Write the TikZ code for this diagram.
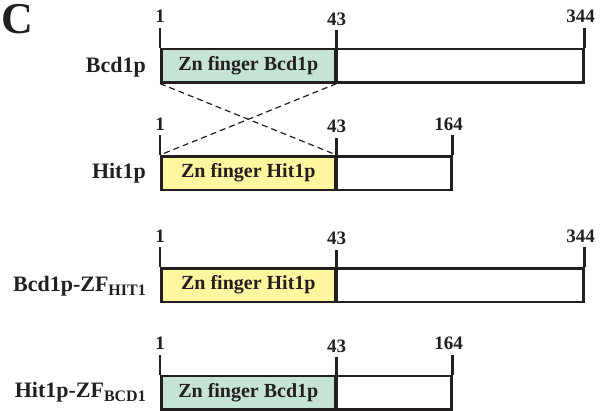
\documentclass[tikz,border=0pt]{standalone}
\usepackage{fontspec}
\setmainfont{Liberation Serif}
\definecolor{zngreen}{RGB}{198,228,211}
\definecolor{znyellow}{RGB}{255,246,160}
\definecolor{ink}{RGB}{35,31,32}
\newcommand{\subtxt}[1]{\raisebox{-4pt}{\fontsize{16}{16}\selectfont\bfseries #1}}
\begin{document}
\begin{tikzpicture}[x=1pt,y=-1pt,
  seg/.style={draw=ink, line width=2.6pt, inner sep=0pt, anchor=north west,
    minimum height=33.5pt, font=\fontsize{20}{20}\selectfont\bfseries, text=ink},
  tick/.style={draw=ink, line width=2.6pt},
  num/.style={anchor=base, inner sep=0pt, font=\fontsize{19}{19}\selectfont\bfseries, text=ink},
  lab/.style={anchor=base east, inner sep=0pt, font=\fontsize{22}{22}\selectfont\bfseries, text=ink},
  swap/.style={draw=ink, line width=1.2pt, dash pattern=on 6pt off 4pt}]
\useasboundingbox (0,0) rectangle (604,410);
\node[anchor=base west, inner sep=0pt, font=\fontsize{44}{44}\selectfont\bfseries, text=ink] (C) at (1.5,33) {C};
% Row 1: Bcd1p
\node[seg, fill=zngreen, minimum width=174pt] (a1) at (160,47.5) {Zn finger Bcd1p};
\node[seg, minimum width=248pt] (a2) at (334,47.5) {};
\draw[tick] (a1.north west) -- ++(0,-20) coordinate (a1t);
\draw[tick] (a1.south east) -- ++(0,-53.5) coordinate (a2t);
\draw[tick] (a2.north east) -- ++(0,-20) coordinate (a3t);
\node[num] (n11) at ([yshift=5pt]a1t) {1};
\node[num] (n12) at ([yshift=5pt]a2t) {43};
\node[num] (n13) at ([yshift=5pt,xshift=-4pt]a3t) {344};
\node[lab] (l1) at (146,72) {Bcd1p};
% Row 2: Hit1p
\node[seg, fill=znyellow, minimum width=174pt] (b1) at (160,155) {Zn finger Hit1p};
\node[seg, minimum width=116pt] (b2) at (334,155) {};
\draw[tick] (b1.north west) -- ++(0,-20) coordinate (b1t);
\draw[tick] (b1.south east) -- ++(0,-53.5) coordinate (b2t);
\draw[tick] (b2.north east) -- ++(0,-20) coordinate (b3t);
\node[num] (n21) at ([yshift=5pt]b1t) {1};
\node[num] (n22) at ([yshift=5pt]b2t) {43};
\node[num] (n23) at ([yshift=5pt,xshift=-4pt]b3t) {164};
\node[lab] (l2) at (146,178) {Hit1p};
% swap lines
\draw[swap] (a1.south west) -- (b1.north east);
\draw[swap] (a1.south east) -- (b1.north west);
% Row 3: Bcd1p-ZF HIT1
\node[seg, fill=znyellow, minimum width=174pt] (c1) at (160,267) {Zn finger Hit1p};
\node[seg, minimum width=248pt] (c2) at (334,267) {};
\draw[tick] (c1.north west) -- ++(0,-20) coordinate (c1t);
\draw[tick] (c1.south east) -- ++(0,-53.5) coordinate (c2t);
\draw[tick] (c2.north east) -- ++(0,-20) coordinate (c3t);
\node[num] (n31) at ([yshift=5pt]c1t) {1};
\node[num] (n32) at ([yshift=5pt]c2t) {43};
\node[num] (n33) at ([yshift=5pt,xshift=-4pt]c3t) {344};
\node[lab] (l3) at (146,291) {Bcd1p-ZF\subtxt{HIT1}};
% Row 4: Hit1p-ZF BCD1
\node[seg, fill=zngreen, minimum width=174pt] (d1) at (160,374.5) {Zn finger Bcd1p};
\node[seg, minimum width=116pt] (d2) at (334,374.5) {};
\draw[tick] (d1.north west) -- ++(0,-20) coordinate (d1t);
\draw[tick] (d1.south east) -- ++(0,-53.5) coordinate (d2t);
\draw[tick] (d2.north east) -- ++(0,-20) coordinate (d3t);
\node[num] (n41) at ([yshift=5pt]d1t) {1};
\node[num] (n42) at ([yshift=5pt]d2t) {43};
\node[num] (n43) at ([yshift=5pt,xshift=-4pt]d3t) {164};
\node[lab] (l4) at (146,397) {Hit1p-ZF\subtxt{BCD1}};
\end{tikzpicture}
\end{document}
